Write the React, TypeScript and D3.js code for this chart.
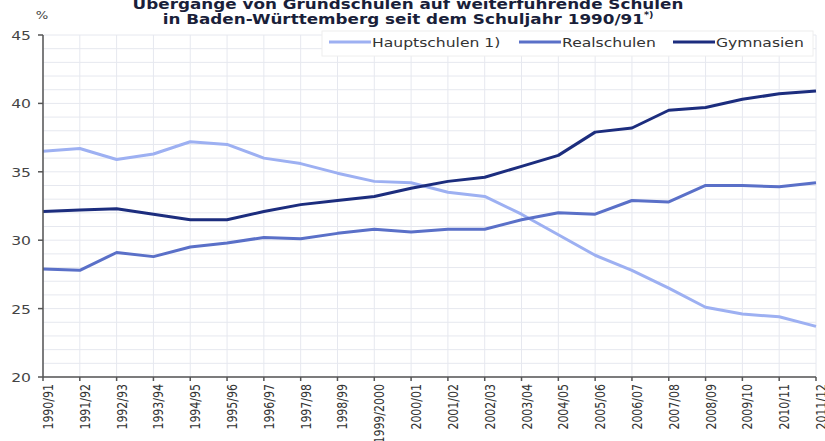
import React from "react";
import * as d3 from "d3";

const categories = ["1990/91","1991/92","1992/93","1993/94","1994/95","1995/96","1996/97","1997/98","1998/99","1999/2000","2000/01","2001/02","2002/03","2003/04","2004/05","2005/06","2006/07","2007/08","2008/09","2009/10","2010/11","2011/12"];
const hauptschulen = [36.5,36.7,35.9,36.3,37.2,37.0,36.0,35.6,34.9,34.3,34.2,33.5,33.2,31.9,30.4,28.9,27.8,26.5,25.1,24.6,24.4,23.7];
const realschulen = [27.9,27.8,29.1,28.8,29.5,29.8,30.2,30.1,30.5,30.8,30.6,30.8,30.8,31.5,32.0,31.9,32.9,32.8,34.0,34.0,33.9,34.2];
const gymnasien = [32.1,32.2,32.3,31.9,31.5,31.5,32.1,32.6,32.9,33.2,33.8,34.3,34.6,35.4,36.2,37.9,38.2,39.5,39.7,40.3,40.7,40.9];
const yTicks = [20,25,30,35,40,45];
const seriesNames = ["Hauptschulen 1)", "Realschulen", "Gymnasien"];
const seriesColors = ["#9db0f2", "#5a70c8", "#1c2d7e"];

const SX = 1.2;

export default function App() {
  const W = 825, H = 441;
  const left = 43, right = 816, top = 35, bottom = 377;
  const x = d3.scalePoint<string>().domain(categories).range([left, right]);
  const y = d3.scaleLinear().domain([20, 45]).range([bottom, top]);
  const series = [hauptschulen, realschulen, gymnasien];
  const line = d3.line<number>().x((_, i) => x(categories[i])!).y(d => y(d));
  const minor = d3.range(20, 46, 1);
  const font = "'DejaVu Sans', Verdana, sans-serif";
  const legendX = [329, 519, 673];
  const tr = (px: number, py: number) => `translate(${px},${py}) scale(${SX},1)`;
  return (
    <svg width={W} height={H} style={{ position: "absolute", left: 0, top: 0, background: "#fff" }} fontFamily={font}>
      <rect width={W} height={H} fill="#fff" />
      {minor.map(v => (
        <line key={"h" + v} x1={left} x2={right} y1={y(v)} y2={y(v)} stroke="#e6e8ef" strokeWidth={1} />
      ))}
      {categories.map(c => (
        <line key={"v" + c} x1={x(c)} x2={x(c)} y1={top} y2={bottom} stroke="#e6e8ef" strokeWidth={1} />
      ))}
      {series.map((s, i) => (
        <path key={i} d={line(s)!} fill="none" stroke={seriesColors[i]} strokeWidth={3} strokeLinejoin="round" />
      ))}
      <line x1={left} x2={left} y1={top} y2={bottom} stroke="#555" strokeWidth={1.5} />
      <line x1={left} x2={right} y1={bottom} y2={bottom} stroke="#555" strokeWidth={1.5} />
      {yTicks.map(t => (
        <g key={"yt" + t}>
          <line x1={left - 5} x2={left} y1={y(t)} y2={y(t)} stroke="#555" strokeWidth={1.5} />
          <text transform={tr(31, y(t) + 5)} textAnchor="end" fontSize={13} fill="#444">{t}</text>
        </g>
      ))}
      {categories.map(c => (
        <g key={"xt" + c}>
          <line x1={x(c)} x2={x(c)} y1={bottom} y2={bottom + 4} stroke="#555" strokeWidth={1.5} />
          <text transform={`translate(${x(c)! + 10},${bottom + 7}) scale(${SX},1) rotate(-90)`} textAnchor="end" fontSize={11} fill="#333">{c}</text>
        </g>
      ))}
      <text transform={tr(42, 19)} textAnchor="middle" fontSize={11} fill="#444">%</text>
      <text transform={tr(408, 9)} textAnchor="middle" fontSize={14} fontWeight="bold" fill="#1a1f3a">Übergänge von Grundschulen auf weiterführende Schulen</text>
      <text transform={tr(408, 24)} textAnchor="middle" fontSize={14} fontWeight="bold" fill="#1a1f3a">
        in Baden-Württemberg seit dem Schuljahr 1990/91<tspan fontSize={8} dy={-6}>*)</tspan>
      </text>
      <rect x={322} y={31} width={491} height={25} fill="#fff" stroke="#eeeeee" strokeWidth={1} />
      {seriesNames.map((n, i) => (
        <g key={"lg" + i}>
          <line x1={legendX[i]} x2={legendX[i] + 42} y1={42} y2={42} stroke={seriesColors[i]} strokeWidth={3} />
          <text transform={tr(legendX[i] + 43, 47)} fontSize={13} fill="#333">{n}</text>
        </g>
      ))}
    </svg>
  );
}
